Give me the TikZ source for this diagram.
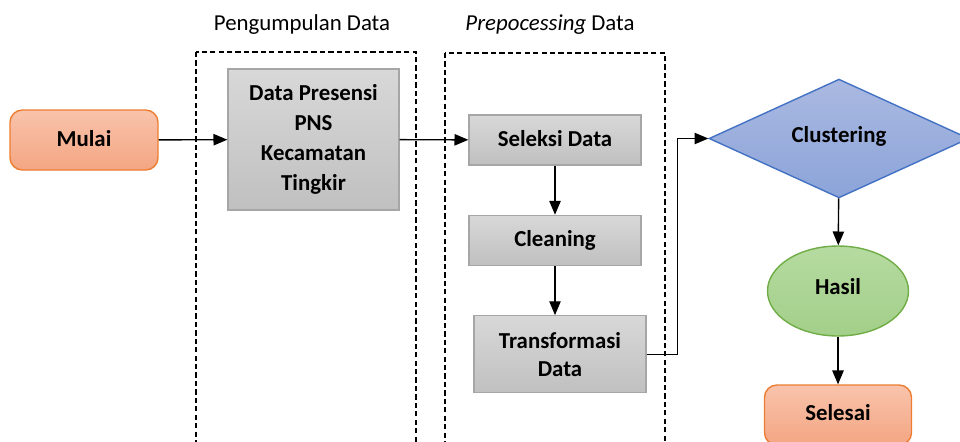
\documentclass[tikz,border=0pt]{standalone}
\usepackage{fontspec}
\setmainfont{Carlito}
\usetikzlibrary{arrows,shapes.geometric,positioning}

\definecolor{oranyeatas}{HTML}{F8C3AB}
\definecolor{oranyebawah}{HTML}{F4A683}
\definecolor{oranyegaris}{HTML}{ED7D31}
\definecolor{abuatas}{HTML}{D8D8D8}
\definecolor{abubawah}{HTML}{C0C0C0}
\definecolor{abugaris}{HTML}{A6A6A6}
\definecolor{biruatas}{HTML}{AAB9E1}
\definecolor{birubawah}{HTML}{8CA4D9}
\definecolor{birugaris}{HTML}{4472C4}
\definecolor{hijauatas}{HTML}{B6DBA1}
\definecolor{hijaubawah}{HTML}{A2CF89}
\definecolor{hijaugaris}{HTML}{70AD47}

\begin{document}
\begin{tikzpicture}[->, >= triangle 45, auto, line width=0.8pt, x = 0.02cm, y = -0.02cm,
	font = \fontsize{13}{16}\selectfont]
\tikzstyle{terminal}=[rectangle, rounded corners=7pt, draw=oranyegaris, top color=oranyeatas, bottom color=oranyebawah, minimum width=2.96cm, minimum height=1.2cm, font=\fontsize{13}{16}\selectfont\bfseries]
\tikzstyle{proses}=[rectangle, draw=abugaris, top color=abuatas, bottom color=abubawah, minimum width=3.44cm, align=center, font=\fontsize{13}{16}\selectfont\bfseries]
\tikzstyle{kelompok}=[-, draw=black, line width=0.7pt, dash pattern=on 3pt off 1.8pt]

\useasboundingbox (0,0) rectangle (960,441);
\clip (0,0) rectangle (960,441);

% kelompok bertitik
\draw[kelompok] (196,52) rectangle (416,470);
\draw[kelompok] (445,53) rectangle (665,470);
\node (judul1) at (302,25) {Pengumpulan Data};
\node (judul2) at (550,25) {\textit{Prepocessing} Data};

\node[terminal]	(mulai)		at (84,140)		{\raisebox{0.06cm}{Mulai}};
\node[proses, minimum width=3.42cm, minimum height=2.82cm, font=\fontsize{13}{17}\selectfont\bfseries]
				(presensi)	at (313.5,139.5)	{Data Presensi\\PNS\\Kecamatan\\Tingkir};
\node[proses, minimum height=1cm]	(seleksi)	at (555,140)		{\raisebox{0.06cm}{Seleksi Data}};
\node[proses, minimum height=1cm]	(cleaning)	[below=0.98cm of seleksi]	{\raisebox{0.06cm}{Cleaning}};
\node[proses, minimum height=1.54cm, font=\fontsize{13}{16}\selectfont\bfseries]
				(transformasi)	[below=0.98cm of cleaning, xshift=0.1cm]	{Transformasi\\Data};
\node[diamond, draw=birugaris, top color=biruatas, bottom color=birubawah, inner sep=0pt, minimum width=5.2cm, minimum height=2.34cm, font=\fontsize{13}{16}\selectfont\bfseries]
				(clustering)	at (839,138.5)	{\raisebox{0.16cm}{Clustering}};
\node[ellipse, draw=hijaugaris, top color=hijauatas, bottom color=hijaubawah, minimum width=2.82cm, minimum height=1.8cm, font=\fontsize{13}{16}\selectfont\bfseries]
				(hasil)		at (838,291)		{\raisebox{0.18cm}{Hasil}};
\node[terminal, minimum width=2.94cm]	(selesai)	at (838,415)		{\raisebox{0.1cm}{Selesai}};

\path
	(mulai)		edge				(presensi)
	(presensi)	edge				(seleksi)
	(seleksi)	edge				(cleaning)
	(cleaning)	edge				(cleaning.south |- transformasi.north)
	(clustering)	edge				(hasil)
	(hasil)		edge				(selesai)
;
\draw (transformasi.east) -- ++(31,0) |- (clustering.west);

\end{tikzpicture}
\end{document}
